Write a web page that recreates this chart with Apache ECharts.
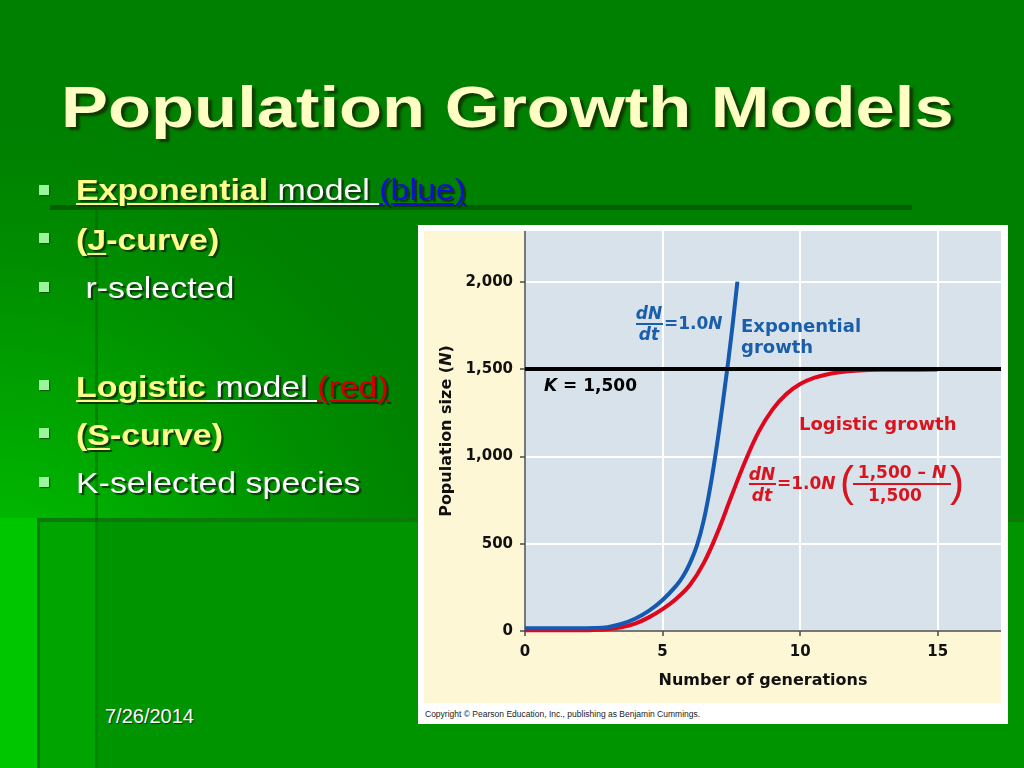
<!DOCTYPE html>
<html>
<head>
<meta charset="utf-8">
<title>Population Growth Models</title>
<script src="https://cdn.jsdelivr.net/npm/echarts@6/dist/echarts.min.js"></script>
<style>
html, body { margin: 0; padding: 0; }
body {
  width: 1024px; height: 768px; overflow: hidden; position: relative;
  font-family: 'Liberation Sans', Arial, sans-serif;
  background:
    radial-gradient(circle 470px at 0px 600px, #00c400 0%, #00a600 38%, #008c00 75%, rgba(0,128,0,0) 100%),
    #008000;
}
.abs { position: absolute; }
#strip  { left: 0; top: 518px; width: 37px; height: 250px; background: #00c600; }
#panelA { left: 37px; top: 518px; width: 987px; height: 250px; background: #00a400;
          box-shadow: inset 3px 4px 0 #0b7a0b; }
#panelB { left: 98px; top: 522px; width: 926px; height: 246px; background: #009400; }
#vline  { left: 95px; top: 210px; width: 3px; height: 558px; background: rgba(10,90,10,0.45); }
#hband  { left: 50px; top: 205px; width: 862px; height: 5px; background: #006000; }

#title {
  left: 61px; top: 78px; font-size: 58px; line-height: 58px; font-weight: bold;
  color: #ffffc4; white-space: nowrap; transform: scaleX(1.215); transform-origin: 0 0;
  text-shadow: 3px 3px 2px #0f3a00;
}
.bul { left: 39px; width: 10px; height: 10px; background: #9cf59c; box-shadow: 1px 1px 1px #145a14; }
.line {
  left: 76px; font-size: 30px; line-height: 30px; white-space: nowrap; color: #ffffff;
  transform: scaleX(1.13); transform-origin: 0 0;
  text-shadow: 2px 2px 1px #0c3a0c;
}
.y { color: #ffff8c; font-weight: bold; }
.u { text-decoration: underline; text-decoration-thickness: 2px; text-underline-offset: 3px; }
.blue { color: #1010d0; }
.red { color: #d00000; }
#date { left: 105px; top: 704px; font-size: 20px; line-height: 24px; color: #fff; text-shadow: 1px 1px 1px #0c3a0c; }

#frame { left: 418px; top: 225px; width: 590px; height: 499px; background: #ffffff; }
#cream { left: 424px; top: 231px; width: 577px; height: 472px; background: #fef7d6; }
#chart { left: 424px; top: 231px; width: 577px; height: 472px; }
#copy  { left: 425px; top: 709px; font-size: 8.5px; line-height: 10px; color: #222; white-space: nowrap; }
</style>
</head>
<body>
<div id="strip" class="abs"></div>
<div id="panelA" class="abs"></div>
<div id="panelB" class="abs"></div>
<div id="vline" class="abs"></div>
<div id="hband" class="abs"></div>

<div id="title" class="abs">Population Growth Models</div>

<div class="abs bul" style="top:185px"></div>
<div class="abs line" style="top:175px"><span class="y u">Exponential</span><span class="u"> model </span><span class="u blue">(blue)</span></div>
<div class="abs bul" style="top:233px"></div>
<div class="abs line y" style="top:225px">(<span class="u">J</span>-curve)</div>
<div class="abs bul" style="top:282px"></div>
<div class="abs line" style="top:273px">&nbsp;r-selected</div>

<div class="abs bul" style="top:380px"></div>
<div class="abs line" style="top:372px"><span class="y u">Logistic</span><span class="u"> model </span><span class="u red">(red)</span></div>
<div class="abs bul" style="top:428px"></div>
<div class="abs line y" style="top:420px">(<span class="u">S</span>-curve)</div>
<div class="abs bul" style="top:477px"></div>
<div class="abs line" style="top:468px">K-selected species</div>

<div id="date" class="abs">7/26/2014</div>

<div id="frame" class="abs"></div>
<div id="cream" class="abs"></div>
<div id="chart" class="abs"></div>
<div id="copy" class="abs">Copyright &copy; Pearson Education, Inc., publishing as Benjamin Cummings.</div>

<script>
// values
var generationsMax = 17.3;
var populationMax = 2290;
var carryingCapacity = 1500;
var xTicks = [0, 5, 10, 15];
var yTicks = [0, 500, 1000, 1500, 2000];

var expGen = [0, 1, 2, 2.5, 3, 3.5, 4, 4.5, 5, 5.5, 5.75, 6, 6.25, 6.5, 6.75, 7, 7.25, 7.5, 7.72];
var expPop = [16, 16, 16, 17, 22, 40, 70, 115, 178, 260, 315, 390, 490, 636, 839, 1091, 1379, 1691, 2000];

var logGen = [0, 1, 2, 2.5, 3, 3.5, 4, 4.5, 5, 5.5, 6, 6.5, 7, 7.5, 8, 8.5, 9, 9.5, 10, 10.5, 11, 11.5, 12, 13, 14, 15];
var logPop = [5, 5, 5, 6, 10, 21, 42, 78, 125, 185, 265, 390, 565, 771, 970, 1143, 1269, 1357, 1414, 1449, 1470, 1483, 1490, 1495, 1496, 1497];

var blueInk = '#1b5ea9';
var redInk = '#d9141e';
var chartFont = 'DejaVu Sans';

function pairs(xs, ys) {
    return xs.map(function (x, i) { return [x, ys[i]]; });
}

function txt(x, y, s, color, size, align, rich) {
    var st = {
        text: s, fill: color, align: align || 'left', verticalAlign: 'middle',
        fontFamily: chartFont, fontWeight: 'bold', fontSize: size
    };
    if (rich) st.rich = rich;
    return { type: 'text', x: x, y: y, silent: true, z: 10, style: st };
}

function bar(x1, x2, y, color) {
    return { type: 'line', silent: true, z: 10,
        shape: { x1: x1, y1: y, x2: x2, y2: y },
        style: { stroke: color, lineWidth: 2 } };
}

function italicRich(color, size) {
    return {
        n: { fill: color, fontFamily: chartFont, fontWeight: 'bold', fontSize: size },
        i: { fill: color, fontFamily: chartFont, fontWeight: 'bold', fontStyle: 'italic', fontSize: size }
    };
}

var notes = [
    // exponential formula and label
    txt(225, 84, '{i|dN}', blueInk, 17, 'center', italicRich(blueInk, 17)),
    bar(212, 239, 93, blueInk),
    txt(225, 105, '{i|dt}', blueInk, 17, 'center', italicRich(blueInk, 17)),
    txt(240, 94, '{n|=1.0}{i|N}', blueInk, 17, 'left', italicRich(blueInk, 17)),
    txt(317, 96, 'Exponential', blueInk, 18),
    txt(317, 117, 'growth', blueInk, 18),
    // carrying capacity
    txt(120, 156, '{i|K}{n| = 1,500}', '#000', 17, 'left', italicRich('#000', 17)),
    // logistic formula and label
    txt(375, 194, 'Logistic growth', redInk, 18),
    txt(338, 245, '{i|dN}', redInk, 17, 'center', italicRich(redInk, 17)),
    bar(325, 352, 253, redInk),
    txt(338, 266, '{i|dt}', redInk, 17, 'center', italicRich(redInk, 17)),
    txt(353, 254, '{n|=1.0}{i|N}', redInk, 17, 'left', italicRich(redInk, 17)),
    { type: 'text', x: 416, y: 253, silent: true, z: 10,
      style: { text: '(', fill: redInk, fontFamily: 'Liberation Sans', fontSize: 42, verticalAlign: 'middle' } },
    txt(478, 243, '{n|1,500 \u2013 }{i|N}', redInk, 17, 'center', italicRich(redInk, 17)),
    bar(429, 527, 253, redInk),
    txt(471, 266, '1,500', redInk, 17, 'center'),
    { type: 'text', x: 526, y: 253, silent: true, z: 10,
      style: { text: ')', fill: redInk, fontFamily: 'Liberation Sans', fontSize: 42, verticalAlign: 'middle' } }
];

var axisInk = '#4a4a4a';

var option = {
    animation: false,
    textStyle: { fontFamily: chartFont },
    grid: { left: 101, right: 0, top: 0, bottom: 72, show: true, backgroundColor: '#d7e2eb', borderWidth: 0 },
    xAxis: {
        type: 'value', min: 0, max: generationsMax, interval: 5,
        name: 'Number of generations', nameLocation: 'middle', nameGap: 42,
        nameTextStyle: { fontSize: 16, fontWeight: 'bold', color: '#111' },
        axisLine: { onZero: false, lineStyle: { color: axisInk, width: 1.5 } },
        axisTick: { show: true, length: 5, customValues: xTicks, lineStyle: { color: axisInk, width: 1.5 } },
        axisLabel: {
            margin: 14, fontSize: 15, fontWeight: 'bold', color: '#111', customValues: xTicks,
            formatter: function (v) { return v % 5 === 0 ? String(v) : ''; }
        },
        splitLine: { lineStyle: { color: '#ffffff', width: 2 } }
    },
    yAxis: {
        type: 'value', min: 0, max: populationMax, interval: 500,
        name: 'Population size ({i|N})', nameLocation: 'middle', nameGap: 68,
        nameTextStyle: {
            fontSize: 16, fontWeight: 'bold', color: '#111',
            rich: { i: { fontSize: 16, fontWeight: 'bold', fontStyle: 'italic', color: '#111' } }
        },
        axisLine: { show: true, lineStyle: { color: axisInk, width: 1.5 } },
        axisTick: { show: true, length: 5, customValues: yTicks, lineStyle: { color: axisInk, width: 1.5 } },
        axisLabel: {
            margin: 12, fontSize: 15, fontWeight: 'bold', color: '#111', customValues: yTicks,
            formatter: function (v) { return v % 500 === 0 ? v.toLocaleString('en-US') : ''; }
        },
        splitLine: { lineStyle: { color: '#ffffff', width: 2 } }
    },
    series: [
        {
            name: 'K', type: 'line', data: [], z: 1,
            markLine: {
                silent: true, symbol: ['none', 'none'], label: { show: false },
                lineStyle: { color: '#000', width: 4, type: 'solid' },
                data: [{ yAxis: carryingCapacity }]
            }
        },
        {
            name: 'Logistic growth', type: 'line', data: pairs(logGen, logPop), z: 3,
            smooth: 0.4, showSymbol: false,
            lineStyle: { color: '#e0061c', width: 4 }
        },
        {
            name: 'Exponential growth', type: 'line', data: pairs(expGen, expPop), z: 4,
            smooth: 0.4, showSymbol: false,
            lineStyle: { color: '#1559b0', width: 4 }
        }
    ],
    graphic: notes
};

var myChart = echarts.init(document.getElementById('chart'));
myChart.setOption(option);
</script>
</body>
</html>
